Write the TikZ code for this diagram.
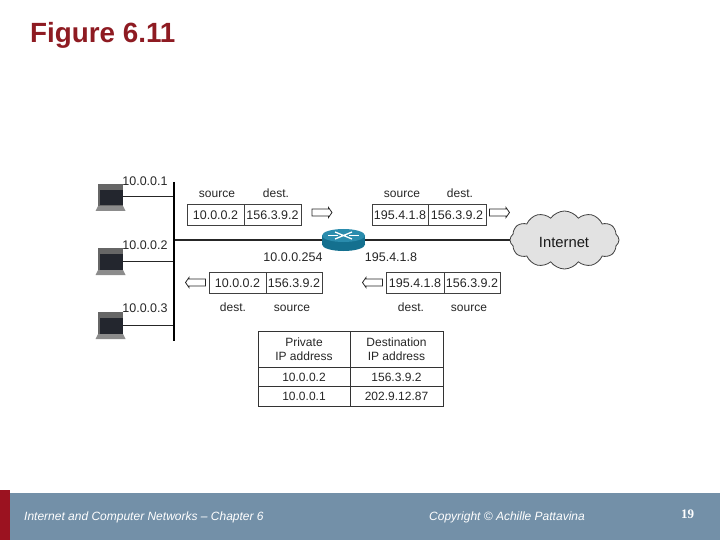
\documentclass[tikz,border=0pt]{standalone}
\usepackage{fontspec}
\setmainfont{Liberation Sans}
\newfontfamily\serifnum{Liberation Serif}
\usetikzlibrary{shapes.symbols}
\definecolor{barblue}{HTML}{7390A8}
\definecolor{barred}{HTML}{9B1220}
\definecolor{titlered}{HTML}{8E1B22}
\definecolor{routerblue}{HTML}{14708F}
\definecolor{routertop}{HTML}{2A8CAD}
\definecolor{cloudgray}{HTML}{E2E2E2}
\definecolor{screendark}{HTML}{23262E}
\tikzset{
  lbl/.style={font=\fontsize{12}{14}\selectfont,text=black!85,inner sep=0pt,text height=9pt,text depth=1pt},
  iplbl/.style={font=\fontsize{12.5}{14}\selectfont,text=black!85,inner sep=0pt,text height=9pt,text depth=0pt},
  cell/.style={draw=black!75,line width=0.8pt,minimum height=21pt,inner sep=0pt,font=\fontsize{12.5}{14}\selectfont,text=black!85,text height=9pt,text depth=0pt},
  tcell/.style={draw=black!80,line width=0.9pt,inner sep=0pt,font=\fontsize{12}{14}\selectfont,text=black!85,align=center},
  trow/.style={tcell,text height=9pt,text depth=0pt},
  link/.style={draw=black!85,line width=1pt},
  foot/.style={text=white,font=\fontsize{12}{14}\selectfont\itshape,inner sep=0pt,anchor=base west},
  flowline/.style={draw=black!85,line width=0.8pt,fill=white},
  flowright/.pic={\path[flowline] (-10,-3.5) -- (6.5,-3.5) -- (6.5,-5) -- (10,0) -- (6.5,5) -- (6.5,3.5) -- (-10,3.5) -- cycle;},
  flowleft/.pic={\path[flowline] (10,-3.5) -- (-6.5,-3.5) -- (-6.5,-5) -- (-10,0) -- (-6.5,5) -- (-6.5,3.5) -- (10,3.5) -- cycle;},
  laptop/.pic={
    \fill[black!60] (-12.5,-11) rectangle (12.5,11);
    \fill[screendark] (-11,-5) rectangle (12.5,10.5);
    \fill[black!45] (-12.5,11) -- (12.5,11) -- (15,16) -- (-15,16) -- cycle;
  }
}
\begin{document}
\begin{tikzpicture}[x=1pt,y=-1pt]
\useasboundingbox (0,0) rectangle (720,540);
% footer
\fill[barblue] (0,493) rectangle (720,540);
\fill[barred] (0,490) rectangle (10,540);
\node[anchor=base west,inner sep=0pt,text=titlered,font=\fontsize{27.8}{30}\selectfont\bfseries] (title) at (30,43) {Figure 6.11};
\node[foot] (f1) at (24,520) {Internet and Computer Networks – Chapter 6};
\node[foot] (f2) at (429,520) {Copyright © Achille Pattavina};
\node[anchor=base west,inner sep=0pt,text=white,font=\fontsize{13}{14}\selectfont\bfseries\serifnum] (f3) at (681,518) {19};
% bus and junctions
\coordinate (bustop) at (174,182);
\coordinate (busbot) at (174,341);
\coordinate (j1) at (174,197);
\coordinate (j2) at (174,261);
\coordinate (j3) at (174,325);
\coordinate (j0) at (174,240);
\coordinate (h1) at (123,197);
\coordinate (h2) at (123,261);
\coordinate (h3) at (123,325);
\coordinate (rl) at (322,240);
\coordinate (rr) at (365,240);
\draw[link] (h1) -- (j1);
\draw[link] (h2) -- (j2);
\draw[link] (h3) -- (j3);
\draw[link,line width=1.4pt] (j0) -- (rl);
\draw[black,line width=2.6pt] (bustop) -- (busbot);
% hosts
\pic at (110.5,195) {laptop};
\pic at (110.5,259) {laptop};
\pic at (110.5,323) {laptop};
\node[iplbl] (a1) at (145,181) {10.0.0.1};
\node[iplbl] (a2) at (145,245) {10.0.0.2};
\node[iplbl] (a3) at (145,308) {10.0.0.3};
% cloud
\node[cloud,draw=black!75,fill=cloudgray,line width=0.8pt,cloud puffs=12,cloud puff arc=110,aspect=1.9,minimum width=109pt,minimum height=58pt,inner sep=0pt] (internet) at (564.5,240) {};
\node[inner sep=0pt,font=\fontsize{14.8}{16}\selectfont,text=black!90] (inettext) at (564,242) {Internet};
\draw[link,line width=1.2pt] (rr) -- (internet.west);
% router
\fill[routerblue] (343.5,244.5) ellipse[x radius=21.5,y radius=6.5];
\fill[routerblue] (322,235.5) rectangle (365,244.5);
\fill[routertop] (343.5,235.5) ellipse[x radius=21.5,y radius=6.5];
\draw[white,line width=1.3pt] (335,232) -- (352,239) (335,239) -- (352,232);
\draw[white,line width=1.3pt] (328,235.5) -- (338,235.5) (349,235.5) -- (359,235.5);
% packets
\node[cell,minimum width=57pt] (p1a) at (215.5,214.5) {10.0.0.2};
\node[cell,minimum width=57pt] (p1b) at (272.5,214.5) {156.3.9.2};
\node[cell,minimum width=56pt] (p2a) at (400,214.5) {195.4.1.8};
\node[cell,minimum width=58pt] (p2b) at (457,214.5) {156.3.9.2};
\node[cell,minimum width=57pt] (p3a) at (237.5,283) {10.0.0.2};
\node[cell,minimum width=56pt] (p3b) at (294,283) {156.3.9.2};
\node[cell,minimum width=58pt] (p4a) at (415,283) {195.4.1.8};
\node[cell,minimum width=56pt] (p4b) at (472,283) {156.3.9.2};
\pic at (322,212.5) {flowright};
\pic at (499.5,212.5) {flowright};
\pic at (195.5,282.5) {flowleft};
\pic at (372.5,282.5) {flowleft};
% labels
\node[lbl] (s1) at (217,193) {source};
\node[lbl] (d1) at (276,193) {dest.};
\node[lbl] (s2) at (402,193) {source};
\node[lbl] (d2) at (460,193) {dest.};
\node[lbl] (d3) at (233,307) {dest.};
\node[lbl] (s3) at (292,307) {source};
\node[lbl] (d4) at (411,307) {dest.};
\node[lbl] (s4) at (469,307) {source};
\node[iplbl] (ip1) at (293,257) {10.0.0.254};
\node[iplbl] (ip2) at (391,257) {195.4.1.8};
% table
\node[tcell,minimum width=92pt,minimum height=36pt] (t11) at (304,349) {\raisebox{-2.5pt}{Private}\\[0pt]\raisebox{-2.5pt}{IP address}};
\node[tcell,minimum width=93pt,minimum height=36pt] (t12) at (396.5,349) {\raisebox{-2.5pt}{Destination}\\[0pt]\raisebox{-2.5pt}{IP address}};
\node[trow,minimum width=92pt,minimum height=19pt] (t21) at (304,376.5) {10.0.0.2};
\node[trow,minimum width=93pt,minimum height=19pt] (t22) at (396.5,376.5) {156.3.9.2};
\node[trow,minimum width=92pt,minimum height=20pt] (t31) at (304,396) {10.0.0.1};
\node[trow,minimum width=93pt,minimum height=20pt] (t32) at (396.5,396) {202.9.12.87};
\end{tikzpicture}
\end{document}
